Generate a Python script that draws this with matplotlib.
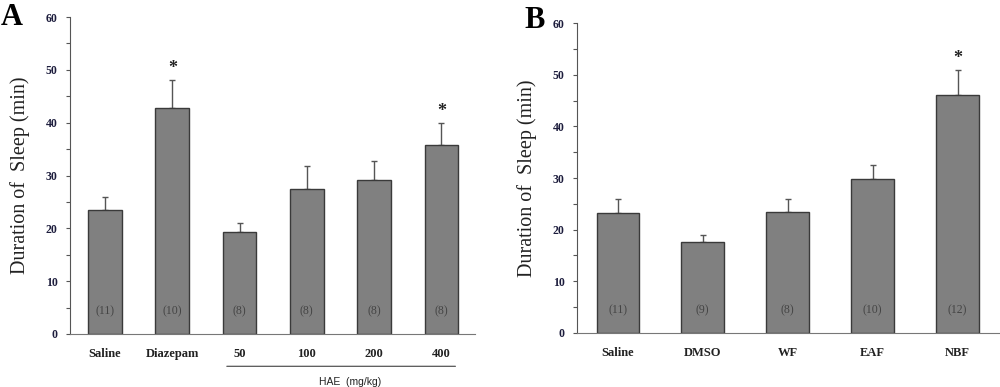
import numpy as np
import matplotlib.pyplot as plt

# Panel A data
a_labels = ["Saline", "Diazepam", "50", "100", "200", "400"]
a_means = [23.4, 42.8, 19.3, 27.5, 29.2, 35.8]
a_sem = [2.5, 5.3, 1.8, 4.3, 3.6, 4.2]
a_n = ["(11)", "(10)", "(8)", "(8)", "(8)", "(8)"]
a_star = [False, True, False, False, False, True]

# Panel B data
b_labels = ["Saline", "DMSO", "WF", "EAF", "NBF"]
b_means = [23.2, 17.6, 23.4, 29.8, 46.0]
b_sem = [2.7, 1.3, 2.5, 2.7, 5.0]
b_n = ["(11)", "(9)", "(8)", "(10)", "(12)"]
b_star = [False, False, False, False, True]

plt.rcParams['font.family'] = ['Liberation Serif', 'DejaVu Serif']
bar_col = '#808080'
edge_col = '#3a3a3a'
tick_col = '#1c1c3c'

fig = plt.figure(figsize=(10, 3.87), dpi=100)


def panel(rect, labels, means, sem, ns, stars, xlim, letter, letter_xy):
    ax = fig.add_axes(rect)
    x = np.arange(len(labels))
    ax.bar(x, means, width=0.5, color=bar_col, edgecolor=edge_col, linewidth=1.0, zorder=2)
    ax.errorbar(x, means, yerr=[np.zeros(len(means)), sem], fmt='none',
                ecolor='#555555', elinewidth=1.0, capsize=2.5, capthick=1.0, zorder=1)
    for xi, m, s, n, st in zip(x, means, sem, ns, stars):
        ax.text(xi, 4.3, n, ha='center', va='center', fontsize=8.5, color='#444444')
        if st:
            ax.text(xi, m + s + 0.6, "*", ha='center', va='bottom', fontsize=13,
                    fontweight='bold', color='#222222')
    ax.set_xlim(*xlim)
    ax.set_ylim(0, 60)
    ax.set_yticks(np.arange(0, 61, 10))
    ax.set_yticks(np.arange(5, 60, 10), minor=True)
    ax.set_xticks(x)
    ax.set_xticklabels(labels, fontsize=9, fontweight='bold', color='#222222')
    ax.tick_params(axis='x', length=0, pad=10)
    ax.tick_params(axis='y', which='both', length=3, width=0.8, color='#555555',
                   labelsize=8.5, labelcolor=tick_col, pad=6)
    for lb in ax.get_yticklabels():
        lb.set_fontweight('bold')
    ax.spines['top'].set_visible(False)
    ax.spines['right'].set_visible(False)
    ax.spines['left'].set_color('#555555')
    ax.spines['bottom'].set_color('#777777')
    ax.set_ylabel("Duration of  Sleep (min)", fontsize=14.5, color='#222222', labelpad=11)
    fig.text(letter_xy[0], letter_xy[1], letter, fontsize=22, fontweight='bold',
             ha='left', va='center')
    return ax


axA = panel([0.070, 0.137, 0.405, 0.819], a_labels, a_means, a_sem, a_n, a_star,
            (-0.52, 5.5), "A", (0.001, 0.955))
axB = panel([0.577, 0.140, 0.423, 0.800], b_labels, b_means, b_sem, b_n, b_star,
            (-0.48, 4.5), "B", (0.524, 0.948))

# HAE group line under the dose labels
axA.annotate("", xy=(1.77, -0.102), xytext=(5.25, -0.102),
             xycoords=('data', 'axes fraction'),
             arrowprops=dict(arrowstyle='-', color='#555555', lw=0.9))
axA.text(3.65, -0.137, "HAE  (mg/kg)", transform=axA.get_xaxis_transform(),
         ha='center', va='top', fontsize=7.5, family='Liberation Sans', color='#222222')

fig.savefig("out.png", dpi=100)
